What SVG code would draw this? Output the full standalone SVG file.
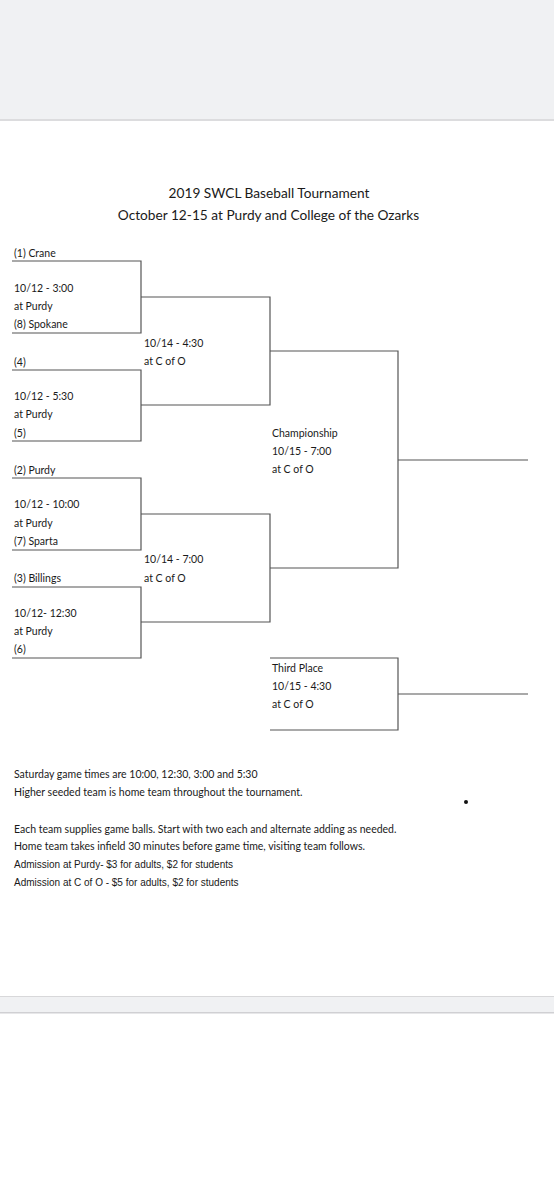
<svg xmlns="http://www.w3.org/2000/svg" width="554" height="1200" viewBox="0 0 554 1200">
<style>
.t{font-family:Lato,"Liberation Sans",sans-serif;font-size:10.5px;fill:#1a1a1a}
.h{font-family:Lato,"Liberation Sans",sans-serif;font-size:13.7px;fill:#1a1a1a}
.a{font-family:"Liberation Sans",Arial,sans-serif;font-size:10px;fill:#1a1a1a}
.c path,.c line{stroke:#555;stroke-width:1.2;fill:none}
</style>
<rect x="0" y="0" width="554" height="1200" fill="#ffffff"/>
<rect x="0" y="0" width="554" height="119" fill="#f0f1f3"/>
<rect x="0" y="119" width="554" height="2" fill="#dcdcde"/>
<rect x="0" y="996" width="554" height="17" fill="#f0f1f3"/>
<rect x="0" y="996" width="554" height="1" fill="#d8d8da"/>
<rect x="0" y="1012" width="554" height="1.5" fill="#d0d0d3"/>
<g id="title">
<text class="h" x="269" y="198" text-anchor="middle">2019 SWCL Baseball Tournament</text>
<text class="h" x="268.5" y="220" text-anchor="middle">October 12-15 at Purdy and College of the Ozarks</text>
</g>
<g class="c" id="connectors">
<path d="M12 261 H141 V333 H12"/>
<path d="M12 370 H141 V441 H12"/>
<path d="M12 478 H141 V550 H12"/>
<path d="M12 587 H141 V658 H12"/>
<path d="M141 297 H270 V405 H141"/>
<path d="M141 514 H270 V622 H141"/>
<path d="M270 351 H398 V568 H270"/>
<line x1="398" y1="460" x2="528" y2="460"/>
<path d="M270 658 H398 V730 H270"/>
<line x1="398" y1="694" x2="528" y2="694"/>
</g>
<g id="game1">
<text class="t" x="14" y="257">(1) Crane</text>
<text class="t" x="14" y="292">10/12 - 3:00</text>
<text class="t" x="14" y="310">at Purdy</text>
<text class="t" x="14" y="328">(8) Spokane</text>
</g>
<g id="game2">
<text class="t" x="14" y="366">(4)</text>
<text class="t" x="14" y="400">10/12 - 5:30</text>
<text class="t" x="14" y="418">at Purdy</text>
<text class="t" x="14" y="437">(5)</text>
</g>
<g id="game3">
<text class="t" x="14" y="474">(2) Purdy</text>
<text class="t" x="14" y="508">10/12 - 10:00</text>
<text class="t" x="14" y="527">at Purdy</text>
<text class="t" x="14" y="545">(7) Sparta</text>
</g>
<g id="game4">
<text class="t" x="14" y="582">(3) Billings</text>
<text class="t" x="14" y="617">10/12- 12:30</text>
<text class="t" x="14" y="635">at Purdy</text>
<text class="t" x="14" y="653">(6)</text>
</g>
<g id="semi1">
<text class="t" x="144" y="347">10/14 - 4:30</text>
<text class="t" x="144" y="365">at C of O</text>
</g>
<g id="semi2">
<text class="t" x="144" y="563">10/14 - 7:00</text>
<text class="t" x="144" y="582">at C of O</text>
</g>
<g id="championship">
<text class="t" x="272" y="437">Championship</text>
<text class="t" x="272" y="455">10/15 - 7:00</text>
<text class="t" x="272" y="473">at C of O</text>
</g>
<g id="third">
<text class="t" x="272" y="672">Third Place</text>
<text class="t" x="272" y="690">10/15 - 4:30</text>
<text class="t" x="272" y="708">at C of O</text>
</g>
<g id="notes">
<text class="t" x="14" y="778">Saturday game times are 10:00, 12:30, 3:00 and 5:30</text>
<text class="t" x="14" y="796">Higher seeded team is home team throughout the tournament.</text>
<text class="t" x="14" y="833">Each team supplies game balls. Start with two each and alternate adding as needed.</text>
<text class="t" x="14" y="850">Home team takes infield 30 minutes before game time, visiting team follows.</text>
<text class="a" x="14" y="868">Admission at Purdy- $3 for adults, $2 for students</text>
<text class="a" x="14" y="886">Admission at C of O - $5 for adults, $2 for students</text>
</g>
<circle cx="466" cy="802" r="2" fill="#111"/>
</svg>
